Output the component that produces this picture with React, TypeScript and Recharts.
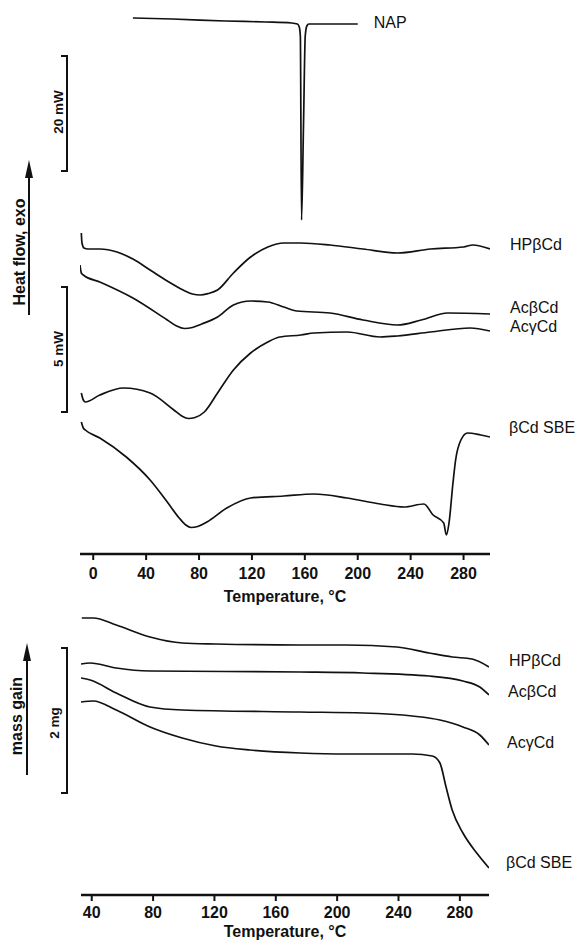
import React from 'react'
import { LineChart, Line, XAxis, YAxis } from 'recharts'

const FONT = '"Liberation Sans", Arial, Helvetica, sans-serif'
const INK = '#111'

const dscTicks = [0, 40, 80, 120, 160, 200, 240, 280]
const tgaTicks = [40, 80, 120, 160, 200, 240, 280]

// DSC traces: [temperature °C, stacked heat flow offset (a.u.)]
const dscNAP = [
  [30, 536], [60, 535], [100, 533], [130, 532], [150, 531], [154.4, 530], [155.8, 527],
  [156.6, 518], [157.5, 334], [159, 430], [160.3, 518], [161.5, 528], [163, 530], [180, 530], [200, 530],
]
const dscHPbCd = [
  [-9, 321], [-8.5, 311], [-7, 306], [-4, 305], [5, 305], [18, 302], [30, 295], [43, 284], [56, 273],
  [68, 264], [75, 260], [81, 259], [87, 260.5], [94, 264], [106, 281], [119, 297], [132, 307],
  [144, 311], [157, 311], [179, 309], [204, 305], [230, 301], [255, 305], [280, 307], [287, 309],
  [300, 305],
]
const dscAcbCd = [
  [-10, 289], [-9, 281], [-7.5, 279], [5, 272], [30, 256], [56, 234], [63, 228], [69, 225.5],
  [75, 226.5], [82, 230], [94, 237], [106, 249], [119, 253], [132, 252], [144, 247], [154, 243],
  [179, 241], [204, 234], [230, 229], [248, 234], [268, 241], [300, 240],
]
const dscAcgCd = [
  [-9, 161], [-7.5, 154], [-6, 152], [5, 159], [23, 166], [43, 161], [61, 144], [67, 138], [72, 135.5],
  [77, 136.5], [84, 142], [94, 161], [106, 184], [119, 201], [132, 212], [141, 217], [157, 219],
  [167, 221], [192, 222], [217, 217], [230, 218], [255, 222], [285, 226], [300, 223],
]
const dscSBE = [
  [-9, 132], [-7.5, 126], [-6, 124], [5, 116], [25, 97], [43, 74], [56, 52], [65, 36], [70, 29],
  [74, 26.5], [79, 27.5], [86, 32], [101, 46], [119, 56], [144, 58], [167, 60], [192, 56], [217, 50],
  [235, 47], [250, 50], [257, 39], [265, 31], [267, 19], [269, 31], [272, 71], [274, 94], [278, 114],
  [283, 121], [293, 119], [300, 117],
]

// TGA traces: [temperature °C, stacked mass offset (a.u.)]
const tgaHPbCd = [
  [33.5, 277], [41, 277], [56, 270], [78, 258], [99, 252], [121, 251], [176, 250], [206, 250],
  [239, 248], [260, 242], [275, 238], [288, 236], [299, 228],
]
const tgaAcbCd = [
  [33, 231], [39, 232], [56, 227], [78, 224], [176, 223], [217, 222], [260, 219], [282, 214],
  [293, 208], [299, 200],
]
const tgaAcgCd = [
  [33, 217], [39, 215], [56, 202], [78, 188], [99, 185], [176, 183], [217, 182], [249, 179],
  [267, 175], [282, 168], [293, 160], [299, 150],
]
const tgaSBE = [
  [33, 193], [41, 194], [56, 185], [78, 168], [99, 157], [121, 149], [143, 145], [176, 142],
  [206, 141], [249, 141], [262, 139], [267, 132], [271, 108], [275, 85], [282, 62], [291, 42],
  [299, 27],
]

const pts = (rows: number[][]) => rows.map(([t, v]) => ({ t, v }))

const endLabel = (text: string, n: number, dx: number, dy: number) => (p: any) => {
  if (p.index !== n - 1) return <g />
  const x = p.x ?? p.viewBox?.x
  const y = p.y ?? p.viewBox?.y
  return (
    <text x={x + dx} y={y + dy} fontSize={16} fontFamily={FONT} fill={INK}>
      {text}
    </text>
  )
}

const dscSeries = [
  { name: 'NAP', rows: dscNAP, dx: 16, dy: 4 },
  { name: 'HPβCd', rows: dscHPbCd, dx: 20, dy: 1 },
  { name: 'AcβCd', rows: dscAcbCd, dx: 20, dy: -1 },
  { name: 'AcγCd', rows: dscAcgCd, dx: 20, dy: 1 },
  { name: 'βCd SBE', rows: dscSBE, dx: 19, dy: -4 },
]
const tgaSeries = [
  { name: 'HPβCd', rows: tgaHPbCd, dx: 20, dy: -1 },
  { name: 'AcβCd', rows: tgaAcbCd, dx: 19, dy: 2 },
  { name: 'AcγCd', rows: tgaAcgCd, dx: 18, dy: 3 },
  { name: 'βCd SBE', rows: tgaSBE, dx: 17, dy: 0 },
]

const tickStyle = { fill: INK, fontSize: 16, fontWeight: 'bold', fontFamily: FONT }
const labelStyle = { fill: INK, fontSize: 16, fontWeight: 'bold', fontFamily: FONT }

function Panel({ series, domain, ticks, yMax, width, height, margin, axisH, tickMargin, labelOffset }: any) {
  return (
    <LineChart width={width} height={height} margin={margin}>
      <XAxis
        type="number"
        dataKey="t"
        domain={domain}
        ticks={ticks}
        allowDataOverflow
        height={axisH}
        tickSize={6}
        tickMargin={tickMargin}
        tick={tickStyle}
        axisLine={{ stroke: INK, strokeWidth: 2.5 }}
        tickLine={{ stroke: INK, strokeWidth: 2 }}
        label={{ value: 'Temperature, °C', position: 'insideBottom', offset: labelOffset, style: labelStyle }}
      />
      <YAxis type="number" domain={[0, yMax]} hide allowDataOverflow />
      {series.map((s: any) => (
        <Line
          key={s.name}
          data={pts(s.rows)}
          dataKey="v"
          type="monotone"
          stroke={INK}
          strokeWidth={1.7}
          dot={false}
          activeDot={false}
          isAnimationActive={false}
          label={endLabel(s.name, s.rows.length, s.dx, s.dy)}
        />
      ))}
    </LineChart>
  )
}

function ScaleBar({ x, y1, y2, text, cx, cy }: any) {
  return (
    <g>
      <path d={`M${x - 6},${y1} H${x} V${y2} H${x - 6}`} fill="none" stroke={INK} strokeWidth={2} />
      <text
        transform={`translate(${cx},${cy}) rotate(-90)`}
        textAnchor="middle"
        fontSize={13.5}
        fontWeight="bold"
        fontFamily={FONT}
        fill={INK}
      >
        {text}
      </text>
    </g>
  )
}

function Arrow({ x, tip, bottom, text, tx, ty }: any) {
  return (
    <g>
      <line x1={x} y1={tip + 12} x2={x} y2={bottom} stroke={INK} strokeWidth={2} />
      <polygon points={`${x},${tip} ${x - 4},${tip + 18} ${x + 4},${tip + 18}`} fill={INK} />
      <text
        transform={`translate(${tx},${ty}) rotate(-90)`}
        textAnchor="middle"
        fontSize={16}
        fontWeight="bold"
        fontFamily={FONT}
        fill={INK}
      >
        {text}
      </text>
    </g>
  )
}

export default function App() {
  return (
    <div style={{ position: 'absolute', left: 0, top: 0, width: 575, height: 940, background: '#fff' }}>
      <div style={{ position: 'absolute', left: 0, top: 0 }}>
        <Panel
          series={dscSeries}
          domain={[-10, 300]}
          ticks={dscTicks}
          yMax={544}
          width={575}
          height={610}
          margin={{ top: 10, right: 85, left: 80, bottom: 0 }}
          axisH={56}
          tickMargin={8}
          labelOffset={8}
        />
      </div>
      <div style={{ position: 'absolute', left: 0, top: 610 }}>
        <Panel
          series={tgaSeries}
          domain={[33, 299]}
          ticks={tgaTicks}
          yMax={285}
          width={575}
          height={330}
          margin={{ top: 0, right: 86, left: 81, bottom: 0 }}
          axisH={45}
          tickMargin={6}
          labelOffset={3}
        />
      </div>
      <svg width={575} height={940} style={{ position: 'absolute', left: 0, top: 0, pointerEvents: 'none' }}>
        <Arrow x={29} tip={160} bottom={315} text="Heat flow, exo" tx={24.5} ty={252} />
        <Arrow x={27} tip={643} bottom={775} text="mass gain" tx={21.5} ty={716} />
        <ScaleBar x={67} y1={56} y2={171} text="20 mW" cx={63} cy={112} />
        <ScaleBar x={67} y1={287} y2={412} text="5 mW" cx={63} cy={349} />
        <ScaleBar x={67} y1={648} y2={793} text="2 mg" cx={59} cy={723} />
      </svg>
    </div>
  )
}
